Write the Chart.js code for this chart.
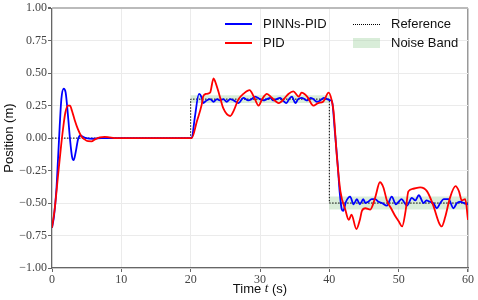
<!DOCTYPE html>
<html>
<head>
<meta charset="utf-8">
<script src="https://cdn.jsdelivr.net/npm/chart.js@4"></script>
<style>
  body { margin: 0; background: #fff; }
  #wrap { position: relative; width: 478px; height: 300px; }
  #legend { position: absolute; left: 0; top: 0; font: 13px "Liberation Sans", Arial, sans-serif; color: #111; }
  .item { position: absolute; height: 14px; line-height: 14px; white-space: nowrap; }
  .sw { position: absolute; left: 0; width: 27px; display: block; }
  .lbl { position: absolute; left: 38px; top: 0; }
</style>
</head>
<body>
<div id="wrap">
  <canvas id="myChart" width="478" height="300"></canvas>
  <div id="legend"></div>
</div>
<script>
// x axis / y axis ticks
var xTicks = [0, 10, 20, 30, 40, 50, 60];
var yTicks = [-1, -0.75, -0.5, -0.25, 0, 0.25, 0.5, 0.75, 1];

// reference step
var refT = [0, 20, 20, 40, 40, 60];
var refY = [0, 0, 0.3, 0.3, -0.5, -0.5];

// noise band (setpoint +/- 10%)
var bandT  = [20, 40, 40, 60];
var bandHi = [0.33, 0.33, -0.45, -0.45];
var bandLo = [0.27, 0.27, -0.55, -0.55];

// PINNs-PID response
var pinnT = [0, 0.29, 0.63, 0.87, 1.11, 1.35, 1.68, 1.97, 2.31, 2.6, 2.88, 3.12, 3.41, 3.75, 4.09, 4.47, 4.95, 5.9, 7.1, 10, 20,
  20.15, 20.6, 21.2, 21.6, 21.8, 22.3, 22.8, 23.3, 23.8, 24.2, 24.7, 25.2, 25.7, 26.2, 26.9, 27.6, 28.3, 28.8, 29.3, 30.0, 30.5, 31.0, 31.5, 31.9, 32.4, 32.9, 33.3, 33.8, 34.2, 34.6, 35.1, 35.5, 36.0, 36.4, 36.8, 37.3, 37.7, 38.2, 38.7, 39.2, 39.7, 40.2,
  40.4, 40.8, 41.2, 41.5, 41.8, 42.0, 42.4, 43.0, 43.5, 43.97, 44.4, 44.9, 45.2, 45.6, 46.1, 46.6, 47.1, 47.6, 48.3, 49.0, 49.6, 50.0, 50.4, 51.2, 51.9, 52.4, 52.9, 53.6, 54.0, 54.5, 55.0, 55.5, 56.0, 56.5, 57.2, 57.9, 58.4, 58.9, 59.4, 60];
var pinnY = [-0.69, -0.6, -0.4, -0.16, 0.09, 0.3, 0.38, 0.35, 0.17, -0.01, -0.14, -0.17, -0.11, -0.01, 0.02, 0.01, 0, -0.005, 0, 0, 0,
  0.0, 0.16, 0.34, 0.31, 0.27, 0.29, 0.3, 0.28, 0.3, 0.29, 0.3, 0.28, 0.3, 0.29, 0.27, 0.31, 0.29, 0.3, 0.32, 0.3, 0.29, 0.3, 0.31, 0.29, 0.3, 0.31, 0.29, 0.27, 0.3, 0.32, 0.27, 0.3, 0.31, 0.3, 0.29, 0.31, 0.3, 0.28, 0.29, 0.31, 0.3, 0.29,
  0.28, 0.05, -0.2, -0.42, -0.55, -0.56, -0.49, -0.45, -0.51, -0.47, -0.51, -0.47, -0.5, -0.49, -0.47, -0.47, -0.49, -0.5, -0.52, -0.45, -0.51, -0.49, -0.47, -0.52, -0.46, -0.48, -0.44, -0.5, -0.48, -0.49, -0.5, -0.54, -0.5, -0.47, -0.47, -0.54, -0.5, -0.49, -0.5, -0.51];

// PID response
var pidT = [0, 0.38, 0.87, 1.25, 1.59, 1.92, 2.31, 2.6, 2.88, 3.27, 3.75, 4.23, 4.7, 5.2, 5.7, 6.2, 6.9, 7.6, 8.3, 9.0, 20,
  20.15, 20.9, 21.6, 21.8, 22.2, 22.8, 23.3, 23.5, 24.1, 24.7, 25.7, 26.2, 26.9, 27.6, 28.5, 29.1, 29.8, 30.3, 31.0, 31.7, 32.7, 33.6, 34.1, 34.8, 35.6, 36.0, 36.8, 37.7, 38.4, 39.1, 39.9, 40.3,
  40.6, 41.1, 41.6, 42.3, 42.8, 43.2, 43.9, 44.4, 44.7, 45.2, 45.9, 46.6, 47.3, 47.8, 48.3, 49.0, 49.5, 50.0, 50.5, 51.0, 51.4, 52.1, 53.1, 54.1, 55.0, 55.8, 56.2, 56.7, 57.4, 58.2, 58.7, 59.1, 59.6, 60];
var pidY = [-0.69, -0.55, -0.29, -0.09, 0.07, 0.195, 0.25, 0.25, 0.21, 0.14, 0.067, 0.015, -0.01, -0.024, -0.025, -0.01, 0.005, 0.01, 0.005, 0, 0,
  0.0, 0.13, 0.26, 0.32, 0.34, 0.35, 0.46, 0.44, 0.34, 0.23, 0.17, 0.21, 0.3, 0.34, 0.37, 0.32, 0.25, 0.3, 0.34, 0.31, 0.27, 0.31, 0.34, 0.36, 0.32, 0.35, 0.32, 0.25, 0.27, 0.28, 0.35, 0.3,
  0.21, -0.15, -0.41, -0.55, -0.63, -0.59, -0.7, -0.63, -0.56, -0.54, -0.55, -0.46, -0.34, -0.38, -0.48, -0.55, -0.6, -0.64, -0.68, -0.56, -0.41, -0.39, -0.38, -0.41, -0.52, -0.65, -0.68, -0.61, -0.46, -0.37, -0.41, -0.48, -0.47, -0.63];

function pts(t, y) {
    var out = [];
    for (var i = 0; i < t.length; i++) out.push({ x: t[i], y: y[i] });
    return out;
}

function fmt(v) {
    var s = Math.abs(v).toFixed(2);
    return v < 0 ? '\u2212' + s : s;
}

var tickFont = { family: '"Liberation Serif", "Times New Roman", serif', size: 12 };

// axis titles (mixed fonts for the italic t)
var titles = {
    id: 'titles',
    afterDraw: function (chart) {
        var ctx = chart.ctx, a = chart.chartArea;
        var sans = '13px "Liberation Sans", Arial, sans-serif';
        var ital = 'italic 13px "Liberation Serif", serif';
        ctx.save();
        ctx.fillStyle = '#111';
        ctx.textBaseline = 'middle';
        var parts = [['Time ', sans], ['t', ital], [' (s)', sans]];
        var w = 0;
        parts.forEach(function (p) { ctx.font = p[1]; w += ctx.measureText(p[0]).width; });
        var x = (a.left + a.right) / 2 - w / 2;
        parts.forEach(function (p) { ctx.font = p[1]; ctx.fillText(p[0], x, 289); x += ctx.measureText(p[0]).width; });
        ctx.translate(9, (a.top + a.bottom) / 2);
        ctx.rotate(-Math.PI / 2);
        ctx.font = sans;
        ctx.textAlign = 'center';
        ctx.fillText('Position (m)', 0, 0);
        ctx.restore();
    }
};

new Chart(document.getElementById('myChart').getContext('2d'), {
    type: 'line',
    data: {
        datasets: [
            { label: 'PID', data: pts(pidT, pidY), borderColor: '#ff0000', borderWidth: 1.8, pointRadius: 0, cubicInterpolationMode: 'monotone', order: 0 },
            { label: 'PINNs-PID', data: pts(pinnT, pinnY), borderColor: '#0000ff', borderWidth: 1.8, pointRadius: 0, cubicInterpolationMode: 'monotone', order: 1 },
            { label: 'Reference', data: pts(refT, refY), borderColor: '#000', borderWidth: 1, borderDash: [1.5, 1.5], pointRadius: 0, tension: 0, order: 2 },
            { label: 'bandHi', data: pts(bandT, bandHi), borderWidth: 0, borderColor: 'rgba(0,0,0,0)', pointRadius: 0, tension: 0, fill: false, order: 3 },
            { label: 'Noise Band', data: pts(bandT, bandLo), borderWidth: 0, borderColor: 'rgba(0,0,0,0)', backgroundColor: 'rgba(160,210,160,0.4)', pointRadius: 0, tension: 0, fill: 3, order: 4 }
        ]
    },
    options: {
        responsive: false,
        animation: false,
        events: [],
        layout: { padding: { left: 0, right: 10, top: 8, bottom: 0 } },
        plugins: { legend: { display: false }, tooltip: { enabled: false } },
        scales: {
            x: {
                type: 'linear', min: 0, max: 60,
                afterBuildTicks: function (s) { s.ticks = xTicks.map(function (v) { return { value: v }; }); },
                afterFit: function (s) { s.height = 32; },
                ticks: { font: tickFont, color: '#444', padding: 1, maxRotation: 0 },
                grid: {
                    color: function (c) { return c.tick && c.tick.value === 60 ? '#999' : '#ebebeb'; },
                    lineWidth: function (c) { return c.tick && c.tick.value === 60 ? 1.5 : 1; },
                    tickColor: '#666', tickLength: 4
                },
                border: { color: '#666', width: 1.2 }
            },
            y: {
                min: -1, max: 1,
                afterBuildTicks: function (s) { s.ticks = yTicks.map(function (v) { return { value: v }; }); },
                afterFit: function (s) { s.width = 52; },
                ticks: { font: tickFont, color: '#444', padding: 1, callback: function (v) { return fmt(v); } },
                grid: {
                    color: function (c) { return c.tick && c.tick.value === 1 ? '#bbb' : '#ebebeb'; },
                    lineWidth: function (c) { return c.tick && c.tick.value === 1 ? 2 : 1; },
                    tickColor: '#666', tickLength: 4
                },
                border: { color: '#666', width: 1.2 }
            }
        }
    },
    plugins: [titles]
});

// legend, two columns, no frame
var legendItems = [
    { text: 'PINNs-PID', x: 225, y: 17, sw: 'background-color:#0000ff; top:6px; height:2px;' },
    { text: 'PID', x: 225, y: 36, sw: 'background-color:#ff0000; top:6px; height:2px;' },
    { text: 'Reference', x: 353, y: 17, sw: 'border-top:1px dotted #000; top:7px; height:0;' },
    { text: 'Noise Band', x: 353, y: 36, sw: 'background-color:rgba(160,210,160,0.4); top:2px; height:10px;' }
];
var lg = document.getElementById('legend');
legendItems.forEach(function (it) {
    var d = document.createElement('div');
    d.className = 'item';
    d.style.left = it.x + 'px';
    d.style.top = it.y + 'px';
    d.innerHTML = '<span class="sw" style="' + it.sw + '"></span><span class="lbl">' + it.text + '</span>';
    lg.appendChild(d);
});
</script>
</body>
</html>
